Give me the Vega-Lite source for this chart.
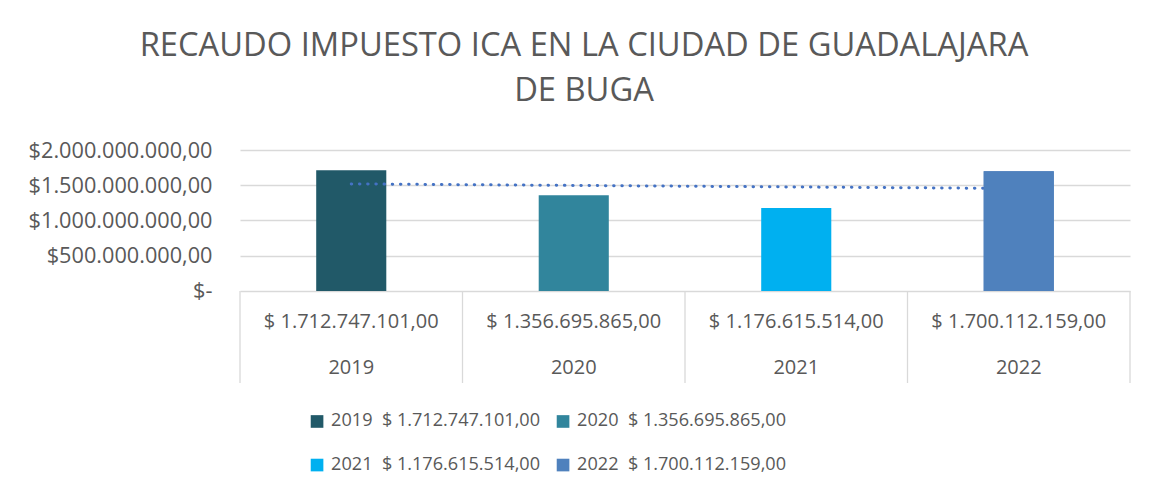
{
  "$schema": "https://vega.github.io/schema/vega-lite/v6.json",
  "autosize": "none",
  "width": 890,
  "height": 233,
  "padding": {"left": 240, "top": 150, "right": 21, "bottom": 110},
  "background": "white",
  "config": {
    "locale": {"number": {"decimal": ",", "thousands": ".", "grouping": [3], "currency": ["$", ""]}},
    "view": {"stroke": null},
    "font": "Open Sans",
    "text": {"font": "Open Sans"}
  },
  "title": {
    "text": ["RECAUDO IMPUESTO ICA EN LA CIUDAD DE GUADALAJARA", "DE BUGA"],
    "fontSize": 32.7,
    "fontWeight": "normal",
    "font": "Open Sans",
    "color": "#595959",
    "lineHeight": 45,
    "dx": -101,
    "offset": 32,
    "anchor": "middle"
  },
  "data": {
    "values": [
      {"anio": "2019", "recaudo": 1712747101, "tendencia": 1519240437, "etiqueta": "$ 1.712.747.101,00", "leyenda": "2019\u00a0 $ 1.712.747.101,00"},
      {"anio": "2020", "recaudo": 1356695865, "tendencia": 1497441178, "etiqueta": "$ 1.356.695.865,00", "leyenda": "2020\u00a0 $ 1.356.695.865,00"},
      {"anio": "2021", "recaudo": 1176615514, "tendencia": 1475642919, "etiqueta": "$ 1.176.615.514,00", "leyenda": "2021\u00a0 $ 1.176.615.514,00"},
      {"anio": "2022", "recaudo": 1700112159, "tendencia": 1453844383, "etiqueta": "$ 1.700.112.159,00", "leyenda": "2022\u00a0 $ 1.700.112.159,00"}
    ]
  },
  "encoding": {
    "x": {
      "field": "anio",
      "type": "nominal",
      "scale": {"paddingInner": 0, "paddingOuter": 0},
      "axis": null
    }
  },
  "layer": [
    {
      "mark": {"type": "bar", "width": {"band": 0.315}},
      "encoding": {
        "y": {
          "field": "recaudo",
          "type": "quantitative",
          "scale": {"domain": [-1305000000, 2000000000], "nice": false, "zero": false},
          "axis": {
            "values": [0, 500000000, 1000000000, 1500000000, 2000000000],
            "format": "$,.2f",
            "labelExpr": "datum.value === 0 ? '$-\u00a0\u00a0\u00a0' : datum.label",
            "title": null,
            "domain": false,
            "ticks": false,
            "labelPadding": 28,
            "labelFontSize": 21.7,
            "labelLimit": 400,
            "labelColor": "#595959",
            "labelFont": "Open Sans",
            "gridColor": "#D9D9D9",
            "gridWidth": 1.3
          }
        },
        "color": {
          "field": "leyenda",
          "type": "nominal",
          "scale": {"range": ["#215968", "#31859C", "#00B0F0", "#4F81BD"]},
          "legend": {
            "orient": "none",
            "legendX": 68,
            "legendY": 262,
            "direction": "horizontal",
            "columns": 2,
            "title": null,
            "symbolType": "square",
            "symbolSize": 160,
            "symbolStrokeWidth": 0,
            "labelFontSize": 18.1,
            "labelFont": "Open Sans",
            "labelColor": "#595959",
            "labelLimit": 500,
            "labelOffset": 5,
            "columnPadding": 13,
            "rowPadding": 25
          }
        }
      }
    },
    {
      "mark": {"type": "line", "color": "#4472C4", "strokeWidth": 3, "strokeDash": [0.5, 7.7], "strokeCap": "round"},
      "encoding": {
        "y": {"field": "tendencia", "type": "quantitative"}
      }
    },
    {
      "transform": [{"filter": "datum.anio === '2022'"}],
      "mark": {"type": "bar", "width": {"band": 0.315}},
      "encoding": {
        "y": {"field": "recaudo", "type": "quantitative"},
        "color": {"field": "leyenda", "type": "nominal"}
      }
    },
    {
      "mark": {"type": "rule", "color": "#D9D9D9", "strokeWidth": 1.3},
      "encoding": {
        "x": {"field": "anio", "type": "nominal", "bandPosition": 0},
        "y": {"datum": 0},
        "y2": {"datum": -1305000000}
      }
    },
    {
      "transform": [{"filter": "datum.anio === '2022'"}],
      "mark": {"type": "rule", "color": "#D9D9D9", "strokeWidth": 1.3},
      "encoding": {
        "x": {"field": "anio", "type": "nominal", "bandPosition": 1},
        "y": {"datum": 0},
        "y2": {"datum": -1305000000}
      }
    },
    {
      "mark": {"type": "text", "fontSize": 20, "color": "#595959", "font": "Open Sans", "baseline": "middle"},
      "encoding": {
        "text": {"field": "etiqueta"},
        "y": {"datum": -440000000}
      }
    },
    {
      "mark": {"type": "text", "fontSize": 20, "color": "#595959", "font": "Open Sans", "baseline": "middle"},
      "encoding": {
        "text": {"field": "anio"},
        "y": {"datum": -1092000000}
      }
    }
  ]
}
